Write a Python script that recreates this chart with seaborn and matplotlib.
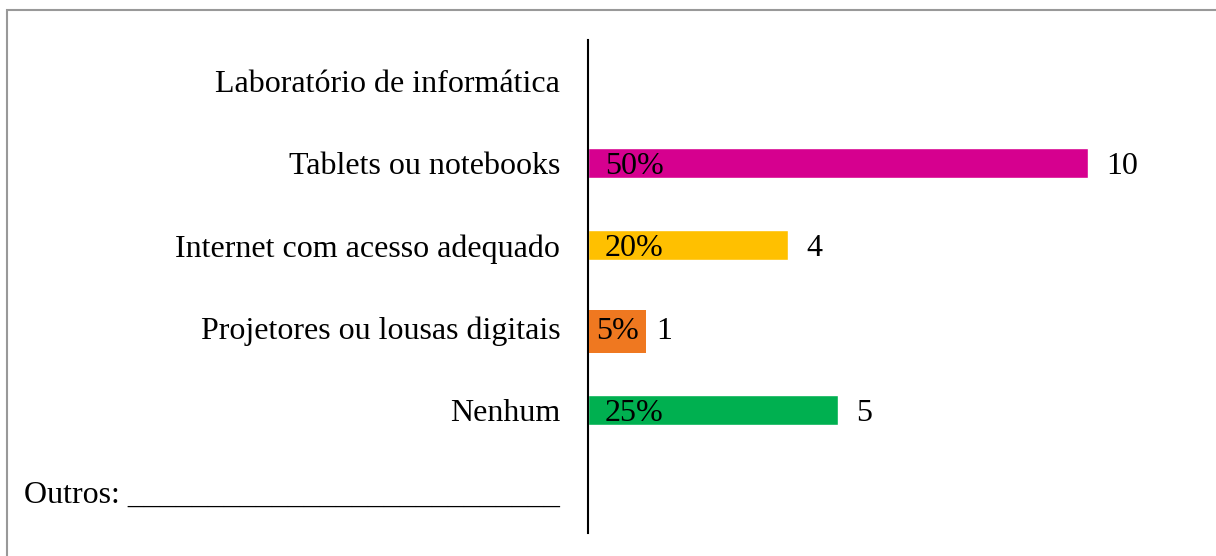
import matplotlib
matplotlib.use("Agg")
import matplotlib.pyplot as plt
import seaborn as sns
import pandas as pd
from matplotlib.patches import Rectangle

# chart data
categories = ['Laboratório de informática', 'Tablets ou notebooks',
              'Internet com acesso adequado', 'Projetores ou lousas digitais',
              'Nenhum', 'Outros: ' + '_' * 27]
counts = [0, 10, 4, 1, 5, 0]
percents = ['', '50%', '20%', '5%', '25%', '']
colors = ['#FFFFFF', '#D6008F', '#FFC000', '#EF7820', '#00B050', '#FFFFFF']

sns.set_theme(style='white')
plt.rcParams['font.family'] = ['Liberation Serif', 'DejaVu Serif']
plt.rcParams['text.color'] = 'black'

df = pd.DataFrame({'cat': categories, 'n': counts})

fig = plt.figure(figsize=(12.16, 5.56), dpi=100)
ax = fig.add_axes([588 / 1216, 1 - 533 / 556, 625 / 1216, 493 / 556])

sns.barplot(data=df, y='cat', x='n', hue='cat', palette=colors, orient='h',
            width=0.365, legend=False, ax=ax, saturation=1)

fs = 23
for i, (n, p) in enumerate(zip(counts, percents)):
    if n == 0:
        continue
    if n == 1:
        ax.text(0.16, i, p, va='center_baseline', ha='left', fontsize=fs,
                color='black',
                bbox=dict(boxstyle='square,pad=0.22', fc=colors[i], ec='none'))
    else:
        ax.text(0.34, i, p, va='center_baseline', ha='left', fontsize=fs,
                color='black')
    ax.text(n + 0.36, i, str(n), va='center_baseline', ha='left', fontsize=fs,
            color='black')

ax.set_xlim(0, 12.5)
ax.set_ylim(5.5, -0.5)
ax.set_xlabel('')
ax.set_ylabel('')
ax.set_xticks([])
ax.tick_params(axis='y', length=0, pad=20, labelsize=fs, labelcolor='black')
for s in ['top', 'right', 'bottom']:
    ax.spines[s].set_visible(False)
ax.spines['left'].set_color('black')
ax.spines['left'].set_linewidth(1.5)

# outer frame (only top/left edges fall inside the image)
fig.patches.append(Rectangle((7 / 1216, -0.1), 1.2, 1 - 10 / 556 + 0.1,
                             transform=fig.transFigure, fill=False,
                             ec='#999999', lw=1.5))

fig.savefig('out.png', dpi=100)
